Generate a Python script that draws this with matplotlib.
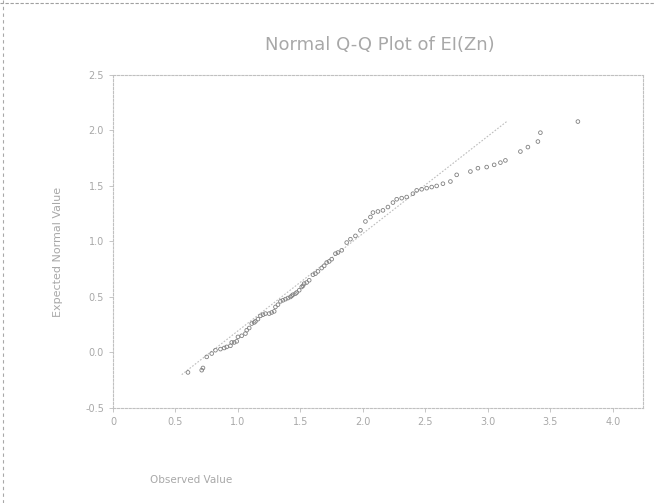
import matplotlib
matplotlib.use('Agg')
from matplotlib import pyplot as plt
from matplotlib.lines import Line2D

# sorted observed values and their expected normal values
observed = [0.60, 0.71, 0.72, 0.75, 0.79, 0.82, 0.86, 0.89, 0.91, 0.94,
            0.95, 0.97, 0.99, 1.00, 1.03, 1.06, 1.07, 1.09, 1.11, 1.13,
            1.14, 1.16, 1.18, 1.20, 1.22, 1.25, 1.27, 1.29, 1.30, 1.32,
            1.34, 1.36, 1.38, 1.40, 1.42, 1.43, 1.44, 1.46, 1.47, 1.49,
            1.51, 1.52, 1.53, 1.55, 1.57, 1.60, 1.62, 1.64, 1.67, 1.69,
            1.71, 1.73, 1.75, 1.78, 1.80, 1.83, 1.87, 1.90, 1.94, 1.98,
            2.02, 2.06, 2.08, 2.12, 2.16, 2.20, 2.24, 2.27, 2.31, 2.35,
            2.40, 2.43, 2.47, 2.51, 2.55, 2.59, 2.64, 2.70, 2.75, 2.86,
            2.92, 2.99, 3.05, 3.10, 3.14, 3.26, 3.32, 3.40, 3.42, 3.72]
expected = [-0.18, -0.16, -0.14, -0.04, -0.01, 0.02, 0.03, 0.04, 0.05, 0.06,
            0.09, 0.09, 0.10, 0.14, 0.15, 0.17, 0.20, 0.22, 0.26, 0.27,
            0.28, 0.30, 0.33, 0.34, 0.35, 0.35, 0.36, 0.37, 0.41, 0.43,
            0.46, 0.47, 0.48, 0.49, 0.50, 0.51, 0.52, 0.53, 0.54, 0.56,
            0.59, 0.60, 0.62, 0.63, 0.65, 0.70, 0.71, 0.73, 0.76, 0.78,
            0.81, 0.82, 0.84, 0.89, 0.90, 0.92, 0.99, 1.02, 1.05, 1.10,
            1.18, 1.22, 1.26, 1.27, 1.28, 1.31, 1.35, 1.38, 1.39, 1.40,
            1.43, 1.46, 1.47, 1.48, 1.49, 1.50, 1.52, 1.54, 1.60, 1.63,
            1.66, 1.67, 1.69, 1.71, 1.73, 1.81, 1.85, 1.90, 1.98, 2.08]

# reference line ends
ref_x = [0.55, 3.15]
ref_y = [-0.20, 2.08]

x_ticks = [0, 0.5, 1.0, 1.5, 2.0, 2.5, 3.0, 3.5, 4.0]
x_labels = ['0', '0.5', '1.0', '1.5', '2.0', '2.5', '3.0', '3.5', '4.0']
y_ticks = [-0.5, 0.0, 0.5, 1.0, 1.5, 2.0, 2.5]
y_labels = ['-0.5', '0.0', '0.5', '1.0', '1.5', '2.0', '2.5']

faded = '#a8a8a8'

fig = plt.figure(figsize=(6.55, 5.03), dpi=100)
ax = fig.add_axes([0.1725, 0.189, 0.809, 0.662])

ax.plot(ref_x, ref_y, color='#bdbdbd', lw=0.8, ls=(0, (1.5, 1.5)), zorder=1)
ax.scatter(observed, expected, s=7, facecolors='none', edgecolors='#808080',
           linewidths=0.6, zorder=2)

ax.set_xlim(0, 4.24)
ax.set_ylim(-0.5, 2.5)
ax.set_xticks(x_ticks)
ax.set_xticklabels(x_labels)
ax.set_yticks(y_ticks)
ax.set_yticklabels(y_labels)
ax.tick_params(colors='#bdbdbd', labelcolor=faded, labelsize=7, length=3, width=0.6)

for sp in ax.spines.values():
    sp.set_color('#c0c0c0')
    sp.set_linewidth(0.8)
    sp.set_linestyle((0, (2, 1.5)))

fig.text(0.58, 0.91, 'Normal Q-Q Plot of EI(Zn)', ha='center', va='center',
         fontsize=13, color=faded)
fig.text(0.088, 0.50, 'Expected Normal Value', rotation=90, ha='center', va='center',
         fontsize=8, color=faded)
fig.text(0.229, 0.046, 'Observed Value', ha='left', va='center', fontsize=7.5, color=faded)

# page frame lines
fig.add_artist(Line2D([0, 1], [0.994, 0.994], transform=fig.transFigure,
                      color='#a0a0a0', lw=0.8, ls=(0, (3, 1.5))))
fig.add_artist(Line2D([0.005, 0.005], [0, 1], transform=fig.transFigure,
                      color='#a8a8a8', lw=0.8, ls=(0, (3, 3))))

plt.savefig('out.png', dpi=100)
